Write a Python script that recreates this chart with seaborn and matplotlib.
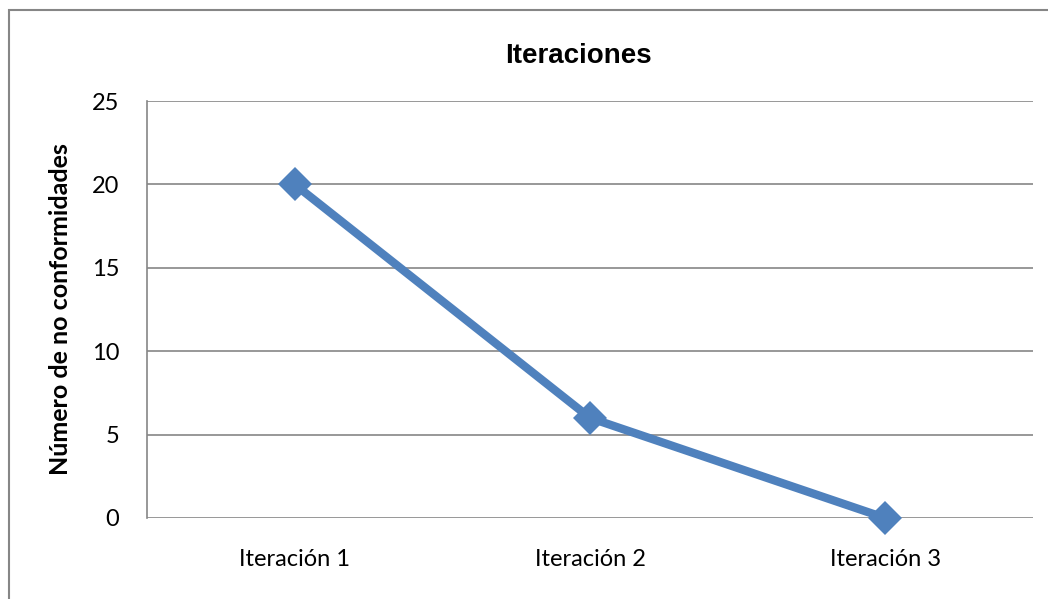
import seaborn as sns
import matplotlib.pyplot as plt
import pandas as pd
from matplotlib.patches import Rectangle
from matplotlib.font_manager import FontProperties

iteraciones = ["Iteración 1", "Iteración 2", "Iteración 3"]
no_conformidades = [20, 6, 0]
y_ticks = [0, 5, 10, 15, 20, 25]

sns.set_theme(style="white")
plt.rcParams['font.family'] = ['Lato', 'DejaVu Sans']
plt.rcParams['text.color'] = 'black'

df = pd.DataFrame({"iter": iteraciones, "n": no_conformidades})

fig = plt.figure(figsize=(10.48, 5.99), dpi=100)
ax = fig.add_axes([147 / 1048, 1 - 518 / 599, (1033 - 147) / 1048, (518 - 101) / 599])

# outer chart border (only left/top visible in the reference)
fig.patches.append(Rectangle((9 / 1048, -0.1), 1.2, 1 - 10 / 599 + 0.1,
                             transform=fig.transFigure, fill=False,
                             edgecolor="#868686", linewidth=1.5))

sns.lineplot(data=df, x="iter", y="n", ax=ax, color="#4F81BD", linewidth=6,
             marker="D", markersize=17, markeredgewidth=0, sort=False, clip_on=False)

ax.set_xlim(-0.5, 2.5)
ax.set_ylim(0, 25)
ax.set_yticks(y_ticks)
ax.yaxis.grid(True, color="#868686", linewidth=1.2)
ax.set_axisbelow(True)
for s in ["top", "right", "bottom"]:
    ax.spines[s].set_visible(False)
ax.spines["left"].set_color("#868686")
ax.spines["left"].set_linewidth(1.2)
ax.tick_params(axis="both", length=0, labelsize=17, colors="black")
ax.tick_params(axis="y", pad=20)
ax.tick_params(axis="x", pad=22)

ax.set_xlabel("")
ax.set_ylabel("Número de no conformidades", fontsize=18, fontweight="bold",
              labelpad=14, color="black")
title_font = FontProperties(family="Liberation Sans", weight="bold", size=20)
fig.text(578 / 1048, 1 - 56 / 599, "Iteraciones", ha="center", va="center",
         fontproperties=title_font, color="black")

fig.savefig("out.png", dpi=100)
